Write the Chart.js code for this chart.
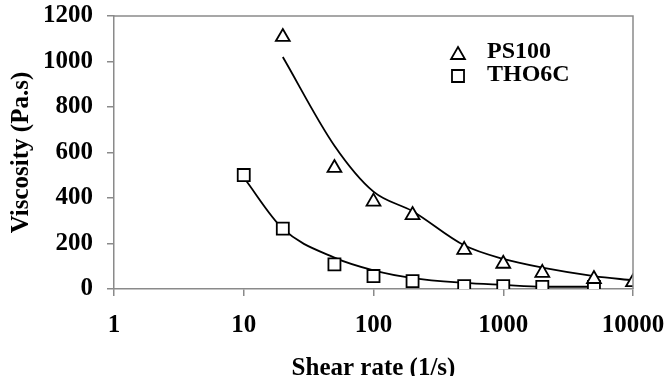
<!DOCTYPE html>
<html>
<head>
<meta charset="utf-8">
<script src="https://cdn.jsdelivr.net/npm/chart.js@4/dist/chart.umd.min.js"></script>
<style>
html,body{margin:0;padding:0;background:#fff;}
#wrap{width:666px;height:376px;}
</style>
</head>
<body>
<div id="wrap"><canvas id="c" width="666" height="376"></canvas></div>
<script>
// Shear rates (1/s)
const ps100Rates = [20, 50, 100, 200, 500, 1000, 2000, 5000, 10000];
const tho6cRates = [10, 20, 50, 100, 200, 500, 1000, 2000, 5000];
// Measured viscosity (Pa.s)
const ps100Measured = [1108, 532, 384, 325, 172, 111, 71, 44, 30];
const tho6cMeasured = [501, 265, 108, 57, 35, 13, 13, 9, 9];
// Model fit curves (Pa.s)
const ps100Fit = [1020, 630, 428, 342, 192, 132, 94, 57, 38];
const tho6cFit = [490, 265, 138, 82, 48, 27, 18, 10, 10];
// Axis ticks
const xTicks = [1, 10, 100, 1000, 10000];
const yTicks = [0, 200, 400, 600, 800, 1000, 1200];
const seriesNames = ['PS100', 'THO6C'];

const pts = (xs, ys) => xs.map((x, i) => ({x: x, y: ys[i]}));
const FONT = "'Liberation Serif', 'Times New Roman', serif";
const GRAY = '#8a8a8a';
const FS = 25;

const frame = {
  id: 'frame',
  afterDraw(chart) {
    const {ctx, chartArea: a} = chart;
    ctx.save();
    ctx.strokeStyle = GRAY;
    ctx.lineWidth = 1.5;
    ctx.beginPath();
    ctx.moveTo(a.left, a.top);
    ctx.lineTo(a.right, a.top);
    ctx.lineTo(a.right, a.bottom);
    ctx.stroke();
    // legend
    const items = [
      {style: 'triangle', r: 8, y: 55, ty: 52},
      {style: 'rect', r: 8.5, y: 76, ty: 75}
    ];
    items.forEach((it, i) => {
      ctx.fillStyle = '#fff';
      ctx.strokeStyle = '#000';
      ctx.lineWidth = 1.8;
      Chart.helpers.drawPoint(ctx, {pointStyle: it.style, radius: it.r, borderWidth: 1.8, rotation: 0}, 458, it.y);
      ctx.fillStyle = '#000';
      ctx.font = "bold 24px " + FONT;
      ctx.textAlign = 'left';
      ctx.textBaseline = 'middle';
      ctx.fillText(seriesNames[i], 487, it.ty);
    });
    ctx.restore();
  }
};

new Chart(document.getElementById('c'), {
  type: 'scatter',
  data: {
    datasets: [
      {label: seriesNames[0], data: pts(ps100Rates, ps100Measured), pointStyle: 'triangle', pointRadius: 8,
       pointBackgroundColor: '#fff', pointBorderColor: '#000', pointBorderWidth: 1.8, showLine: false, order: 0},
      {label: seriesNames[1], data: pts(tho6cRates, tho6cMeasured), pointStyle: 'rect', pointRadius: 8.5,
       pointBackgroundColor: '#fff', pointBorderColor: '#000', pointBorderWidth: 1.8, showLine: false, order: 0},
      {label: 'PS100 fit', data: pts(ps100Rates, ps100Fit), showLine: true, pointRadius: 0, borderColor: '#000',
       borderWidth: 1.8, cubicInterpolationMode: 'monotone', order: 1},
      {label: 'THO6C fit', data: pts(tho6cRates, tho6cFit), showLine: true, pointRadius: 0, borderColor: '#000',
       borderWidth: 1.8, cubicInterpolationMode: 'monotone', order: 1}
    ]
  },
  options: {
    responsive: false,
    animation: false,
    devicePixelRatio: 1,
    layout: {padding: {top: 16, right: 33, left: 0, bottom: 0}},
    plugins: {legend: {display: false}, tooltip: {enabled: false}},
    scales: {
      x: {
        type: 'logarithmic', min: 1, max: 10000,
        afterBuildTicks(scale) { scale.ticks = xTicks.map(v => ({value: v})); },
        afterFit(scale) { scale.height = 87; scale.paddingLeft = 0; scale.paddingRight = 0; },
        ticks: {callback: v => String(v), color: '#000', padding: 17, maxRotation: 0, autoSkip: false,
                font: {family: FONT, size: FS, weight: 'bold', lineHeight: 1}},
        grid: {display: true, drawOnChartArea: false, drawTicks: true, tickLength: 7, color: GRAY, lineWidth: 1.5},
        border: {display: true, color: GRAY, width: 1.5},
        title: {display: true, text: 'Shear rate (1/s)', color: '#000', padding: {top: 0, bottom: -5.5},
                font: {family: FONT, size: FS, weight: 'bold', lineHeight: 1}}
      },
      y: {
        min: 0, max: 1200,
        afterBuildTicks(scale) { scale.ticks = yTicks.map(v => ({value: v})); },
        afterFit(scale) { scale.width = 114; scale.paddingTop = 0; scale.paddingBottom = 0; },
        ticks: {callback: v => String(v), color: '#000', padding: 14,
                font: {family: FONT, size: FS, weight: 'bold', lineHeight: 1}},
        grid: {display: true, drawOnChartArea: false, drawTicks: true, tickLength: 7, color: GRAY, lineWidth: 1.5},
        border: {display: true, color: GRAY, width: 1.5},
        title: {display: true, text: 'Viscosity (Pa.s)', color: '#000', padding: {top: 9.5, bottom: 0},
                font: {family: FONT, size: FS, weight: 'bold', lineHeight: 1}}
      }
    }
  },
  plugins: [frame]
});
</script>
</body>
</html>
